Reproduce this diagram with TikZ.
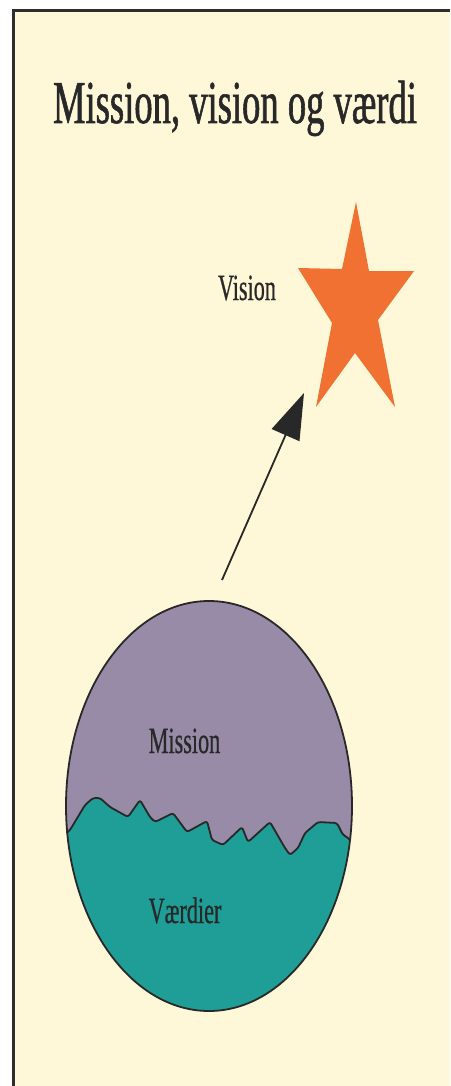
\documentclass[tikz,border=0pt]{standalone}
\usepackage{fontspec}
\usetikzlibrary{arrows.meta}
\newfontfamily\condfont[FakeStretch=0.6, FakeBold=0.9]{Liberation Serif}
\newfontfamily\condlabelfont[FakeStretch=0.6, FakeBold=0.5]{Liberation Serif}
\definecolor{cream}{RGB}{254,248,217}
\definecolor{lavender}{RGB}{151,139,167}
\definecolor{tealfill}{RGB}{30,158,150}
\definecolor{starorange}{RGB}{241,113,50}
\definecolor{inkgray}{RGB}{40,40,40}
\definecolor{framegray}{RGB}{45,45,45}
\tikzset{
  titletext/.style={anchor=base, inner sep=0pt, text=inkgray, font=\condfont\fontsize{61}{61}\selectfont},
  labeltext/.style={anchor=base, inner sep=0pt, text=inkgray, font=\condlabelfont\fontsize{37}{37}\selectfont},
  outline/.style={draw=inkgray, line width=1.8pt, line join=round},
  arrowline/.style={draw=inkgray, line width=1.8pt, -{Triangle[length=46pt, width=30pt]}},
  framestyle/.style={draw=framegray, line width=3pt},
}
\begin{document}
\begin{tikzpicture}[x=1pt, y=-1pt]
\useasboundingbox (0,0) rectangle (450,1086);
\fill[white] (0,0) rectangle (450,1086);
\fill[cream] (13,11) rectangle (450,1086);
\draw[framestyle] (13,1086) -- (13,11) -- (450,11);

% title
\node[titletext] (title) at (235,123) {Mission, vision og værdi};

% star
\fill[starorange] (356,202) -- (369,271) -- (414,271) -- (378,320) -- (395,407)
  -- (355,353) -- (316,407) -- (332,323) -- (298,268) -- (342,269) -- cycle;
\node[labeltext] (vision) at (247,300) {Vision};

% arrow
\coordinate (arrowtail) at (222,580);
\coordinate (arrowtip) at (304,393);
\draw[arrowline] (arrowtail) -- (arrowtip);

% globe
\fill[lavender] (209,806) ellipse [x radius=143, y radius=205];
\begin{scope}
  \clip (209,806) ellipse [x radius=143, y radius=205];
  \fill[tealfill, rounded corners=2.5pt] (50,836) -- (66.7,833) -- (70,830) -- (85,805) -- (93,798) -- (100,798)
    -- (110,807) -- (128,817) -- (140,800) -- (150,817) -- (155,822) -- (173,813)
    -- (187,832) -- (207,821) -- (212,840) -- (223,845) -- (242,827) -- (248,842)
    -- (270,822) -- (285,848) -- (290,855) -- (298,848) -- (305,833) -- (318,822)
    -- (337,823) -- (343,835) -- (347,837) -- (348,840) -- (370,842)
    -- (370,1030) -- (50,1030) -- cycle;
\end{scope}
\draw[outline, rounded corners=2.5pt] (66.7,833) -- (70,830) -- (85,805) -- (93,798) -- (100,798)
    -- (110,807) -- (128,817) -- (140,800) -- (150,817) -- (155,822) -- (173,813)
    -- (187,832) -- (207,821) -- (212,840) -- (223,845) -- (242,827) -- (248,842)
    -- (270,822) -- (285,848) -- (290,855) -- (298,848) -- (305,833) -- (318,822)
    -- (337,823) -- (343,835) -- (347,837) -- (350,840);
\draw[outline] (209,806) ellipse [x radius=143, y radius=205];

\node[labeltext] (mission) at (184.5,753) {Mission};
\node[labeltext] (vaerdier) at (185,923) {Værdier};
\end{tikzpicture}
\end{document}
